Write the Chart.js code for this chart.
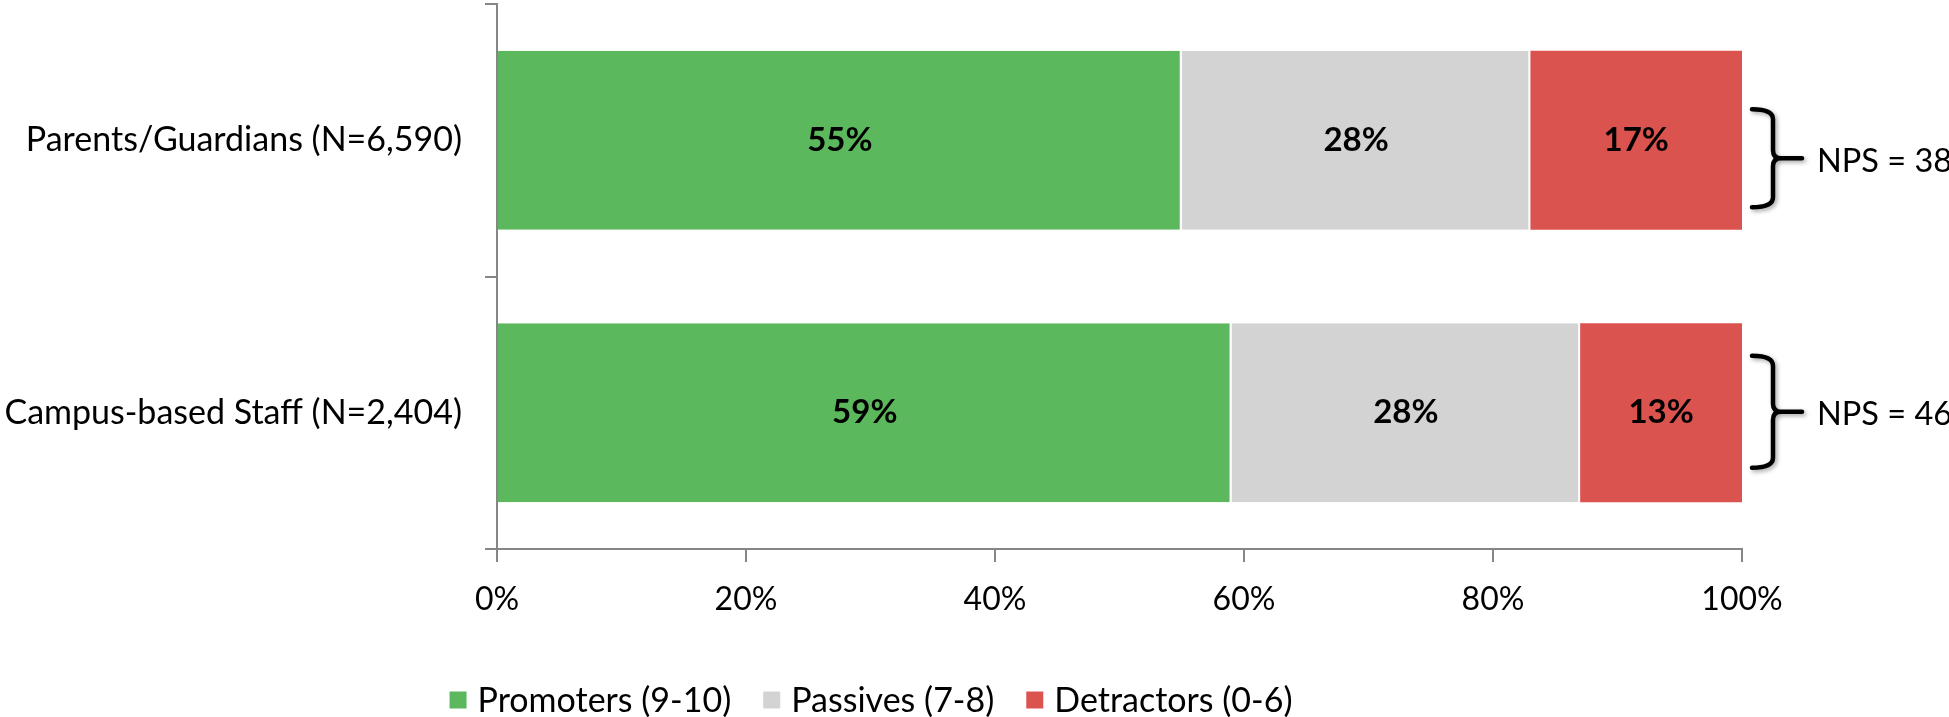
<!DOCTYPE html>
<html>
<head>
<meta charset="utf-8">
<script src="https://cdn.jsdelivr.net/npm/chart.js@4.4.1/dist/chart.umd.min.js"></script>
<style>
  html, body { margin: 0; padding: 0; background: #ffffff; }
  #wrap { width: 1949px; height: 717px; }
</style>
</head>
<body>
<div id="wrap"><canvas id="npsChart" width="1949" height="717"></canvas></div>
<script>
// Dados do gráfico
const groups = ['Parents/Guardians (N=6,590)', 'Campus-based Staff (N=2,404)'];
const seriesNames = ['Promoters (9-10)', 'Passives (7-8)', 'Detractors (0-6)'];
const promoters = [55, 59];
const passives = [28, 28];
const detractors = [17, 13];
const npsScores = [38, 46];
const xTicks = [0, 20, 40, 60, 80, 100];

const seriesColors = ['#5CB85C', '#D3D3D3', '#DA534F'];
const axisColor = '#868686';
const FONT = 'Lato, "Open Sans", sans-serif';

// Rótulos de porcentagem dentro das barras
const barLabels = {
  id: 'barLabels',
  afterDatasetsDraw(chart) {
    const ctx = chart.ctx;
    ctx.save();
    ctx.font = 'bold 33px ' + FONT;
    ctx.fillStyle = '#000000';
    ctx.textAlign = 'center';
    ctx.textBaseline = 'middle';
    chart.data.datasets.forEach((ds, di) => {
      chart.getDatasetMeta(di).data.forEach((bar, i) => {
        const c = bar.getCenterPoint();
        ctx.fillText(ds.data[i] + '%', c.x, c.y);
      });
    });
    ctx.restore();
  }
};

// Chaves "}" com o NPS à direita de cada barra
const npsBrackets = {
  id: 'npsBrackets',
  afterDraw(chart) {
    const { ctx, chartArea } = chart;
    const bars = chart.getDatasetMeta(2).data;
    const shift = [18, -1];
    const half = [49, 56];
    const x0 = chartArea.right + 10;
    const x1 = x0 + 21;
    const x2 = x0 + 50;
    bars.forEach((bar, i) => {
      const mid = bar.y + shift[i];
      const top = mid - half[i];
      const bottom = mid + half[i];
      ctx.save();
      ctx.strokeStyle = '#000000';
      ctx.lineWidth = 4.5;
      ctx.lineCap = 'round';
      ctx.shadowColor = 'rgba(0,0,0,0.35)';
      ctx.shadowBlur = 4;
      ctx.shadowOffsetX = 2;
      ctx.shadowOffsetY = 2;
      ctx.beginPath();
      ctx.moveTo(x0, top);
      ctx.quadraticCurveTo(x1, top, x1, top + 10);
      ctx.lineTo(x1, mid - 8);
      ctx.quadraticCurveTo(x1, mid, x1 + 8, mid);
      ctx.lineTo(x2, mid);
      ctx.moveTo(x1 + 8, mid);
      ctx.quadraticCurveTo(x1, mid, x1, mid + 8);
      ctx.lineTo(x1, bottom - 10);
      ctx.quadraticCurveTo(x1, bottom, x0, bottom);
      ctx.stroke();
      ctx.restore();

      ctx.save();
      ctx.font = '32.5px ' + FONT;
      ctx.fillStyle = '#000000';
      ctx.textAlign = 'left';
      ctx.textBaseline = 'middle';
      ctx.fillText('NPS = ' + npsScores[i], x0 + 65, mid + 3);
      ctx.restore();
    });
  }
};

// Legenda desenhada embaixo, centrada como no original
const bottomLegend = {
  id: 'bottomLegend',
  afterDraw(chart) {
    const ctx = chart.ctx;
    const box = 17, gapText = 11, gapItem = 32;
    const centerX = 871, y = 700;
    ctx.save();
    ctx.font = '34px ' + FONT;
    ctx.textBaseline = 'middle';
    ctx.textAlign = 'left';
    const widths = seriesNames.map(n => ctx.measureText(n).width);
    let total = 0;
    widths.forEach((w, i) => { total += box + gapText + w + (i < widths.length - 1 ? gapItem : 0); });
    let x = centerX - total / 2;
    seriesNames.forEach((name, i) => {
      ctx.fillStyle = seriesColors[i];
      ctx.fillRect(x, y - box / 2, box, box);
      x += box + gapText;
      ctx.fillStyle = '#000000';
      ctx.fillText(name, x, y + 1);
      x += widths[i] + gapItem;
    });
    ctx.restore();
  }
};

const seriesValues = [promoters, passives, detractors];

const chart = new Chart(document.getElementById('npsChart'), {
  type: 'bar',
  data: {
    labels: groups,
    datasets: seriesNames.map((name, i) => ({
      label: name,
      data: seriesValues[i],
      backgroundColor: seriesColors[i],
      borderColor: '#ffffff',
      borderWidth: i < 2 ? { right: 2, left: 0, top: 0, bottom: 0 } : 0,
      borderSkipped: false,
      categoryPercentage: 1,
      barPercentage: 0.657
    }))
  },
  options: {
    indexAxis: 'y',
    responsive: false,
    devicePixelRatio: 1,
    animation: false,
    layout: { padding: { top: 4, right: 207, left: 0, bottom: 0 } },
    plugins: {
      legend: { display: false },
      tooltip: { enabled: false }
    },
    scales: {
      x: {
        stacked: true,
        min: 0,
        max: 100,
        afterBuildTicks: axis => { axis.ticks = xTicks.map(v => ({ value: v })); },
        border: { color: axisColor, width: 2 },
        grid: { drawOnChartArea: false, drawTicks: true, tickLength: 13, color: axisColor, lineWidth: 2 },
        ticks: {
          color: '#000000',
          font: { family: FONT, size: 32 },
          padding: 18,
          maxRotation: 0,
          callback: v => v + '%'
        },
        afterFit: s => { s.height = 168; s.paddingLeft = 0; s.paddingRight = 0; }
      },
      y: {
        stacked: true,
        border: { color: axisColor, width: 2 },
        grid: { drawOnChartArea: false, drawTicks: true, tickLength: 12, color: axisColor, lineWidth: 2 },
        ticks: { color: '#000000', font: { family: FONT, size: 34 }, padding: 23 },
        afterFit: s => { s.width = 497; s.paddingTop = 0; s.paddingBottom = 0; }
      }
    }
  },
  plugins: [barLabels, npsBrackets, bottomLegend]
});
</script>
</body>
</html>
